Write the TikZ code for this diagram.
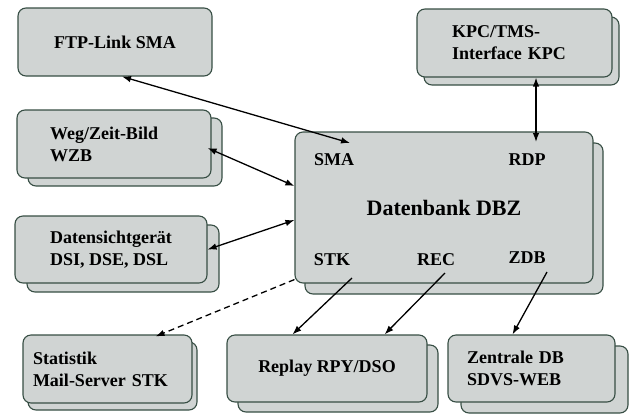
\documentclass[tikz,border=0pt]{standalone}
\usepackage{fontspec}
\setmainfont{Liberation Serif}
\usetikzlibrary{calc}
\usetikzlibrary{shadows}
\usetikzlibrary{arrows.meta}

\definecolor{boxfill}{RGB}{208,212,211}
\definecolor{boxline}{RGB}{55,78,68}

\begin{document}
\begin{tikzpicture}[x=1pt, y=-1pt, >={Latex[length=9pt,width=6.5pt]},
    every node/.style={font=\fontsize{18}{22}\selectfont\bfseries},
    sysbox/.style={draw=boxline, fill=boxfill, line width=1.1pt, rounded corners=8pt},
    back/.style args={#1/#2}{copy shadow={shadow xshift=#1pt, shadow yshift=-#2pt,
        draw=boxline, fill=boxfill, line width=1.1pt}},
    link/.style={line width=1.3pt}]

\useasboundingbox (0,0) rectangle (631,413);

% --- outer systems ---
\node[sysbox, minimum width=194pt, minimum height=68pt] (ftp) at (115,42) {FTP-Link SMA};
\node[sysbox, back=11/8, minimum width=194pt, minimum height=68pt,
      inner xsep=33pt, text width=128pt, align=left] (wzb) at (114,144) {Weg/Zeit-Bild\\WZB};
\node[sysbox, back=7/8, minimum width=195pt, minimum height=68pt,
      inner xsep=35pt, text width=125pt, align=left] (kpc) at (514.5,43) {KPC/TMS-\\Interface KPC};
\node[sysbox, back=12/9, minimum width=192pt, minimum height=67pt,
      align=left] (dsi) at (111,249.5) {Datensichtgerät\\DSI, DSE, DSL};
\node[sysbox, back=5/7, minimum width=169pt, minimum height=68pt,
      inner xsep=10pt, text width=149pt, align=left] (stk) at (107.5,369) {Statistik\\Mail-Server STK};
\node[sysbox, back=11/10, minimum width=200pt, minimum height=67pt] (rpy) at (327,368.5) {Replay RPY/DSO};
\node[sysbox, back=13/11, minimum width=167pt, minimum height=67pt,
      inner xsep=19pt, text width=129pt, align=left] (zdb) at (531.5,368.5) {Zentrale DB\\SDVS-WEB};

% --- central database ---
\node[sysbox, back=10/11, minimum width=298pt, minimum height=151pt,
      font=\fontsize{22}{26}\selectfont\bfseries] (dbz) at (444,207.5) {Datenbank DBZ};

% ports
\node (lsma) at (334,160) {SMA};
\node (lrdp) at (527,160) {RDP};
\node (lstk) at (332,260) {STK};
\node (lrec) at (436,260) {REC};
\node (lzdb) at (527,258) {ZDB};

% --- links ---
\draw[link, <->] ($(ftp.south)+(7,0)$) -- ($(lsma)+(16,-17)$);
\draw[link, <->] ($(wzb.east)+(-4,4)$) -- ($(dbz.west)+(0,-21.5)$);
\draw[link, <->] (dsi.east) -- ($(dbz.west)+(0,12.5)$);
\draw[link, <->] ($(kpc.south)+(21.5,0)$) -- ($(lrdp)+(9,-18)$);
\draw[link, ->, dash pattern=on 6pt off 4pt] ($(dbz.south west)+(0,-4)$) -- ($(stk.north)+(48,2)$);
\draw[link, ->] ($(lstk)+(20,18)$) -- ($(rpy.north west)+(66,0)$);
\draw[link, ->] ($(lrec)+(9,13)$) -- ($(rpy.north east)+(-43,0)$);
\draw[link, ->] ($(lzdb)+(20,14)$) -- ($(zdb.north)+(-19,0)$);

\end{tikzpicture}
\end{document}
